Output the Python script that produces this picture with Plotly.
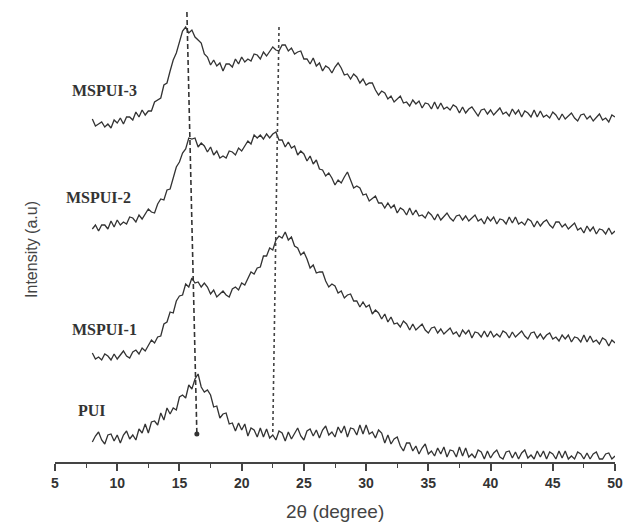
import numpy as np
import plotly.graph_objects as go

# 2-theta sampling grid (degrees)
two_theta = np.round(np.arange(8.0, 50.0001, 0.25), 2).tolist()

# Stacked XRD intensities (a.u.), each pattern offset vertically
mspui_3 = [
    343, 336, 338, 340, 335, 338, 334, 342,
    339, 344, 338, 345, 345, 342, 350, 345,
    352, 347, 351, 351, 360, 362, 364, 377,
    379, 391, 402, 409, 421, 431, 435, 429,
    432, 425, 422, 419, 408, 405, 397, 402,
    396, 399, 391, 398, 398, 395, 403, 398,
    405, 400, 403, 401, 408, 407, 403, 410,
    406, 411, 415, 412, 411, 417, 417, 411,
    414, 408, 410, 411, 403, 403, 398, 404,
    396, 399, 391, 396, 394, 389, 395, 399,
    394, 387, 388, 383, 388, 385, 379, 383,
    377, 379, 379, 372, 367, 371, 369, 363,
    366, 360, 363, 366, 359, 360, 356, 362,
    358, 361, 354, 359, 358, 353, 360, 353,
    359, 353, 355, 352, 357, 355, 349, 355,
    349, 353, 355, 350, 346, 352, 353, 348,
    352, 347, 351, 354, 348, 350, 346, 353,
    348, 352, 345, 351, 349, 345, 352, 345,
    351, 345, 347, 344, 350, 347, 342, 348,
    343, 346, 349, 344, 341, 347, 348, 343,
    346, 341, 345, 348, 342, 344, 340, 347,
    345,
]

mspui_2 = [
    233, 237, 231, 237, 237, 233, 241, 235,
    242, 237, 240, 238, 245, 244, 240, 247,
    243, 248, 253, 250, 249, 258, 263, 262,
    272, 273, 284, 295, 300, 309, 313, 324,
    323, 324, 315, 319, 316, 310, 315, 307,
    311, 304, 306, 304, 311, 310, 307, 314,
    311, 316, 321, 318, 327, 324, 327, 323,
    328, 324, 328, 330, 322, 322, 315, 320,
    314, 316, 307, 311, 308, 301, 306, 298,
    302, 293, 292, 286, 289, 284, 277, 282,
    279, 285, 290, 282, 274, 276, 274, 267,
    268, 261, 264, 266, 259, 259, 254, 259,
    254, 257, 249, 254, 252, 247, 254, 247,
    252, 246, 247, 244, 250, 247, 242, 248,
    242, 246, 249, 244, 241, 246, 247, 242,
    246, 241, 244, 247, 241, 243, 238, 245,
    241, 245, 238, 243, 242, 238, 245, 239,
    245, 238, 240, 237, 243, 241, 235, 241,
    236, 240, 242, 237, 234, 240, 240, 235,
    238, 233, 236, 239, 232, 234, 229, 236,
    231, 235, 228, 233, 232, 228, 234, 228,
    231,
]

mspui_1 = [
    109, 103, 105, 102, 108, 106, 102, 108,
    103, 107, 111, 106, 104, 110, 112, 108,
    114, 111, 117, 122, 119, 125, 126, 138,
    140, 150, 149, 161, 166, 167, 178, 175,
    184, 179, 180, 175, 179, 175, 168, 172,
    165, 168, 171, 167, 165, 173, 175, 172,
    179, 177, 184, 190, 188, 194, 195, 206,
    206, 214, 212, 222, 226, 224, 230, 222,
    225, 216, 214, 207, 210, 203, 194, 197,
    189, 190, 190, 181, 175, 178, 176, 169,
    171, 164, 167, 168, 161, 161, 155, 160,
    155, 157, 148, 152, 149, 143, 148, 140,
    145, 138, 139, 135, 141, 138, 132, 138,
    132, 135, 138, 132, 129, 134, 135, 129,
    133, 128, 131, 134, 128, 130, 125, 132,
    128, 132, 124, 130, 129, 125, 131, 125,
    131, 125, 128, 125, 131, 129, 124, 130,
    125, 128, 131, 126, 123, 129, 130, 124,
    128, 123, 127, 129, 123, 125, 121, 127,
    123, 127, 120, 125, 124, 120, 127, 120,
    126, 120, 122, 118, 124, 122, 116, 122,
    119,
]

pui = [
    20, 26, 30, 22, 18, 27, 28, 21,
    27, 19, 27, 31, 23, 27, 22, 33,
    29, 38, 29, 40, 41, 37, 49, 42,
    54, 48, 54, 52, 65, 67, 64, 77,
    73, 83, 88, 75, 70, 72, 67, 55,
    56, 44, 48, 49, 38, 39, 31, 39,
    32, 38, 26, 34, 32, 25, 34, 25,
    33, 24, 27, 22, 31, 29, 21, 30,
    23, 29, 34, 26, 22, 31, 33, 26,
    32, 24, 32, 36, 27, 30, 25, 35,
    29, 36, 25, 34, 33, 27, 37, 28,
    37, 28, 30, 24, 32, 29, 19, 27,
    18, 23, 25, 16, 11, 19, 19, 11,
    16, 8, 14, 18, 8, 11, 6, 14,
    8, 15, 5, 12, 11, 5, 15, 6,
    14, 5, 8, 4, 12, 10, 3, 11,
    4, 9, 12, 5, 3, 10, 11, 4,
    10, 3, 9, 12, 4, 7, 3, 11,
    5, 11, 3, 10, 8, 3, 11, 4,
    11, 3, 6, 3, 10, 8, 3, 9,
    3, 8, 10, 3, 3, 8, 9, 3,
    6,
]

series_names = ["MSPUI-3", "MSPUI-2", "MSPUI-1", "PUI"]
series_values = [mspui_3, mspui_2, mspui_1, pui]

# Pattern labels: (2-theta, intensity) anchor
label_x = [9.0, 8.5, 9.0, 8.0]
label_y = [372, 265, 133, 52]

# Peak-shift guide lines
dash_guide_x = [15.6, 16.4]
dash_guide_y = [450, 28]
dot_guide_x = [23.0, 22.5]
dot_guide_y = [435, 30]

x_ticks = [5, 10, 15, 20, 25, 30, 35, 40, 45, 50]

line_color = "#333333"
fig = go.Figure()

for name, vals in zip(series_names, series_values):
    fig.add_trace(go.Scatter(
        x=two_theta, y=vals, mode="lines", name=name,
        line=dict(color=line_color, width=1.3), showlegend=False,
    ))

fig.add_trace(go.Scatter(
    x=dash_guide_x, y=dash_guide_y, mode="lines",
    line=dict(color="#333333", width=1.6, dash="5px,3px"), showlegend=False,
))
fig.add_trace(go.Scatter(
    x=[dash_guide_x[-1]], y=[dash_guide_y[-1]], mode="markers",
    marker=dict(color="#333333", size=5), showlegend=False,
))
fig.add_trace(go.Scatter(
    x=dot_guide_x, y=dot_guide_y, mode="lines",
    line=dict(color="#444444", width=1.6, dash="dot"), showlegend=False,
))

annotations = []
for name, lx, ly in zip(series_names, label_x, label_y):
    annotations.append(dict(
        x=lx, y=ly, xref="x", yref="y", text=name, showarrow=False,
        font=dict(family="Liberation Serif", size=16, color="#333333", weight="bold"),
        xanchor="center", yanchor="middle",
    ))
annotations.append(dict(
    x=0, y=0.459, xref="paper", yref="paper", text="Intensity (a.u)",
    showarrow=False, textangle=-90, xshift=-23,
    font=dict(family="Liberation Sans", size=16, color="#444444"),
    xanchor="center", yanchor="middle",
))
annotations.append(dict(
    x=0.5, y=0, xref="paper", yref="paper", text="2\u03b8 (degree)",
    showarrow=False, yshift=-49,
    font=dict(family="Liberation Sans", size=19, color="#444444"),
    xanchor="center", yanchor="middle",
))

fig.update_layout(
    width=624, height=522,
    margin=dict(l=55, r=9, t=0, b=60),
    paper_bgcolor="white", plot_bgcolor="white",
    annotations=annotations,
    xaxis=dict(
        range=[5, 50], tickvals=x_ticks, ticks="outside", ticklen=7,
        tickwidth=1.5, tickcolor="#444444", showline=True, linewidth=2,
        linecolor="#444444", showgrid=False, zeroline=False,
        tickfont=dict(family="Liberation Sans", size=14, color="#333333", weight="bold"),
        minor=dict(dtick=2.5, tick0=5, ticks="outside", ticklen=4,
                   tickwidth=1.2, tickcolor="#444444"),
    ),
    yaxis=dict(
        range=[0, 462], showticklabels=False, showgrid=False,
        zeroline=False, showline=False, ticks="",
    ),
)

fig.write_html("out.html")
